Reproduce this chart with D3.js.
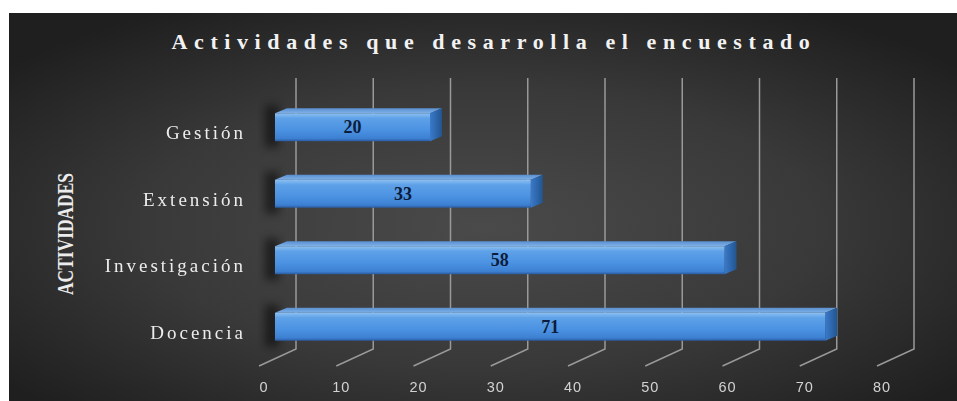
<!DOCTYPE html>
<html>
<head>
<meta charset="utf-8">
<script src="https://cdn.jsdelivr.net/npm/d3@7"></script>
<style>
  html, body { margin: 0; padding: 0; background: #fff; }
  svg { display: block; }
</style>
</head>
<body>
<div id="chart"></div>
<script>
// Chart data
const categories = ['Gestión', 'Extensión', 'Investigación', 'Docencia'];
const values = [20, 33, 58, 71];
const xTicks = [0, 10, 20, 30, 40, 50, 60, 70, 80];
const chartTitle = 'Actividades que desarrolla el encuestado';
const axisTitle = 'ACTIVIDADES';

const width = 957;
const height = 401;

const svg = d3.select('#chart')
  .append('svg')
  .attr('width', width)
  .attr('height', height);

const defs = svg.append('defs');

// Background gradient
const bg = defs.append('radialGradient')
  .attr('id', 'bgGrad')
  .attr('cx', '50%').attr('cy', '55%').attr('r', '65%');
bg.append('stop').attr('offset', '0%').attr('stop-color', '#4a4a4a');
bg.append('stop').attr('offset', '55%').attr('stop-color', '#393939');
bg.append('stop').attr('offset', '100%').attr('stop-color', '#1f1f1f');

// Bar faces
const frontGrad = defs.append('linearGradient')
  .attr('id', 'frontGrad').attr('x1', 0).attr('y1', 0).attr('x2', 0).attr('y2', 1);
frontGrad.append('stop').attr('offset', '0%').attr('stop-color', '#8cc0f2');
frontGrad.append('stop').attr('offset', '18%').attr('stop-color', '#5ea1e8');
frontGrad.append('stop').attr('offset', '60%').attr('stop-color', '#4b92e2');
frontGrad.append('stop').attr('offset', '90%').attr('stop-color', '#3d80d2');
frontGrad.append('stop').attr('offset', '100%').attr('stop-color', '#2a5ca2');

const topGrad = defs.append('linearGradient')
  .attr('id', 'topGrad').attr('x1', 0).attr('y1', 1).attr('x2', 0).attr('y2', 0);
topGrad.append('stop').attr('offset', '0%').attr('stop-color', '#7fb2ea');
topGrad.append('stop').attr('offset', '100%').attr('stop-color', '#5a8fcf');

const sideGrad = defs.append('linearGradient')
  .attr('id', 'sideGrad').attr('x1', 0).attr('y1', 0).attr('x2', 1).attr('y2', 0);
sideGrad.append('stop').attr('offset', '0%').attr('stop-color', '#3a7acb');
sideGrad.append('stop').attr('offset', '100%').attr('stop-color', '#22558f');

defs.append('filter').attr('id', 'blur')
  .attr('x', '-50%').attr('y', '-50%').attr('width', '200%').attr('height', '200%')
  .append('feGaussianBlur').attr('stdDeviation', 4);

defs.append('filter').attr('id', 'soft')
  .append('feGaussianBlur').attr('stdDeviation', 0.4);

// Panel
svg.append('rect')
  .attr('x', 9).attr('y', 13)
  .attr('width', width - 9).attr('height', height - 13)
  .attr('fill', 'url(#bgGrad)');

// Scales
const xBack = d3.scaleLinear().domain([0, 80]).range([296, 914]);
const xBar = d3.scaleLinear().domain([0, 80]).range([275, 895]);
const y = d3.scaleBand()
  .domain(categories)
  .range([94, 360])
  .paddingInner(0.58)
  .paddingOuter(0.29);

const wallTop = 78;
const wallBottom = 349;
const floorDx = -37;
const floorDy = 17;
const barDx = 12;
const barDy = -5;

// Gridlines (back wall + floor)
const grid = svg.append('g')
  .attr('stroke', '#999')
  .attr('stroke-width', 1.5)
  .attr('fill', 'none');

grid.selectAll('path')
  .data(xTicks)
  .enter()
  .append('path')
  .attr('d', t => `M${xBack(t)},${wallTop}V${wallBottom}l${floorDx},${floorDy}`);

// Tick labels
svg.append('g')
  .selectAll('text')
  .data(xTicks)
  .enter()
  .append('text')
  .attr('x', t => xBack(t) + floorDx + 5)
  .attr('y', 392)
  .attr('text-anchor', 'middle')
  .attr('font-family', '"Liberation Sans", Arial, sans-serif')
  .attr('font-size', '14.5px')
  .attr('letter-spacing', '1px')
  .attr('fill', '#d2d2d2')
  .attr('filter', 'url(#soft)')
  .text(t => t);

// Bars
const rows = categories.map((c, i) => ({ name: c, value: values[i] }));
const bh = y.bandwidth();

const bars = svg.append('g')
  .selectAll('g')
  .data(rows)
  .enter()
  .append('g');

// dark shadow at the left end of every bar
bars.append('rect')
  .attr('x', xBar(0) - 10)
  .attr('y', d => y(d.name) - 8)
  .attr('width', 14)
  .attr('height', bh + 14)
  .attr('fill', '#000')
  .attr('opacity', 0.5)
  .attr('filter', 'url(#blur)');

bars.append('path')
  .attr('fill', 'url(#topGrad)')
  .attr('d', d => {
    const x0 = xBar(0), x1 = xBar(d.value), yt = y(d.name);
    return `M${x0},${yt}L${x1},${yt}l${barDx},${barDy}L${x0 + barDx},${yt + barDy}Z`;
  });

bars.append('path')
  .attr('fill', 'url(#sideGrad)')
  .attr('d', d => {
    const x1 = xBar(d.value), yt = y(d.name);
    return `M${x1},${yt}l${barDx},${barDy}v${bh}l${-barDx},${-barDy}Z`;
  });

bars.append('rect')
  .attr('x', xBar(0))
  .attr('y', d => y(d.name))
  .attr('width', d => xBar(d.value) - xBar(0))
  .attr('height', bh)
  .attr('fill', 'url(#frontGrad)');

bars.append('text')
  .attr('x', d => (xBar(0) + xBar(d.value)) / 2)
  .attr('y', d => y(d.name) + bh / 2 + 6)
  .attr('text-anchor', 'middle')
  .attr('font-family', '"Liberation Serif", "Times New Roman", serif')
  .attr('font-weight', 'bold')
  .attr('font-size', '18px')
  .attr('fill', '#0b1c3c')
  .text(d => d.value);

// Category labels
svg.append('g')
  .selectAll('text')
  .data(categories)
  .enter()
  .append('text')
  .attr('x', 246)
  .attr('y', c => y(c) + bh - 2)
  .attr('text-anchor', 'end')
  .attr('font-family', '"Liberation Serif", "Times New Roman", serif')
  .attr('font-size', '19px')
  .attr('letter-spacing', '3px')
  .attr('fill', '#ececec')
  .attr('filter', 'url(#soft)')
  .text(c => c);

// Axis title
svg.append('text')
  .attr('transform', 'translate(73,234) rotate(-90)')
  .attr('text-anchor', 'middle')
  .attr('font-family', '"Liberation Serif", "Times New Roman", serif')
  .attr('font-weight', 'bold')
  .attr('font-size', '23px')
  .attr('textLength', 122)
  .attr('lengthAdjust', 'spacingAndGlyphs')
  .attr('fill', '#ececec')
  .text(axisTitle);

// Chart title
svg.append('text')
  .attr('x', 494)
  .attr('y', 49)
  .attr('text-anchor', 'middle')
  .attr('font-family', '"Liberation Serif", "Times New Roman", serif')
  .attr('font-weight', 'bold')
  .attr('font-size', '22px')
  .attr('letter-spacing', '6.6px')
  .attr('fill', '#f2f2f2')
  .text(chartTitle);
</script>
</body>
</html>
